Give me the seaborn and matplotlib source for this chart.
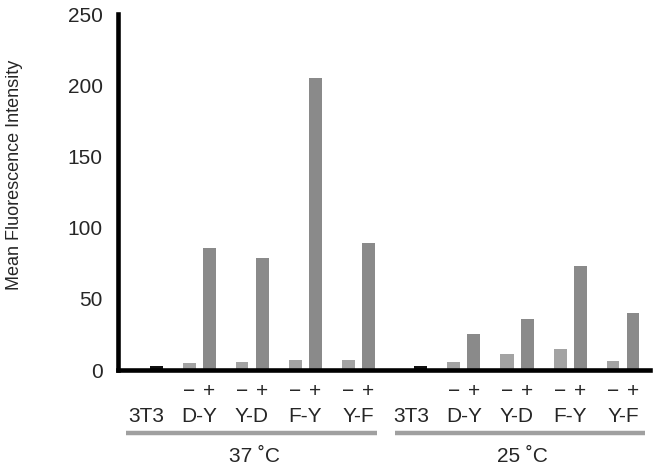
import numpy as np
import pandas as pd
import matplotlib
matplotlib.use("Agg")
import matplotlib.pyplot as plt
import matplotlib.transforms as mtransforms
import seaborn as sns

# ---- data ----
temperatures = ["37 ˚C", "25 ˚C"]
constructs = ["D-Y", "Y-D", "F-Y", "Y-F"]
control_label = "3T3"
control_3t3 = [3, 3]
minus_37 = [4.7, 5.8, 6.8, 7.2]
plus_37 = [86, 79, 205, 89]
minus_25 = [5.6, 11.2, 14.5, 6.5]
plus_25 = [25.3, 35.6, 73.3, 40]
minus_vals = [minus_37, minus_25]
plus_vals = [plus_37, plus_25]
y_ticks = [0, 50, 100, 150, 200, 250]
y_label = "Mean Fluorescence Intensity"

# ---- layout ----
SLOT = 1.0            # spacing between groups
MINUS_OFF = 20 / 53   # offset of '-' bar left of '+' bar
BAR_W = 13 / 53

rows = []
group_pos = []  # (temp index, label, center x, (minus x, plus x))
for t, temp in enumerate(temperatures):
    base = t * 5
    rows.append({"x": base * SLOT, "y": control_3t3[t], "kind": "ctrl"})
    group_pos.append((t, control_label, base * SLOT - MINUS_OFF / 2, None))
    for i, c in enumerate(constructs):
        k = (base + i + 1) * SLOT
        rows.append({"x": k - MINUS_OFF, "y": minus_vals[t][i], "kind": "minus"})
        rows.append({"x": k, "y": plus_vals[t][i], "kind": "plus"})
        group_pos.append((t, c, k - MINUS_OFF / 2, (k - MINUS_OFF, k)))
df = pd.DataFrame(rows)

palette = {"ctrl": "#111111", "minus": "#a3a3a3", "plus": "#8a8a8a"}

sns.set_style("white")
plt.rcParams["font.family"] = ["Liberation Sans", "DejaVu Sans"]

FS = 15

fig = plt.figure(figsize=(6.58, 4.69), dpi=100)
ax = fig.add_axes([118 / 658, 1 - 370 / 469, (650 - 118) / 658, 356 / 469])

sns.barplot(data=df, x="x", y="y", hue="kind", palette=palette,
            native_scale=True, dodge=False, width=BAR_W / MINUS_OFF,
            legend=False, ax=ax, linewidth=0, saturation=1)

ax.set_xlim(-38 / 53, (650 - 156) / 53)
ax.set_ylim(0, 250)
ax.set_yticks(y_ticks)
ax.set_yticklabels([str(v) for v in y_ticks], fontsize=FS)
ax.set_xticks([])
ax.set_xlabel("")
ax.set_ylabel(y_label, fontsize=13)
ax.yaxis.set_label_coords(-0.178, 0.548)
for s in ["top", "right"]:
    ax.spines[s].set_visible(False)
for s in ["left", "bottom"]:
    ax.spines[s].set_linewidth(3.3)
    ax.spines[s].set_color("black")
ax.tick_params(axis="y", direction="out", length=5, width=3.3, color="black", pad=6)

trans = mtransforms.blended_transform_factory(ax.transData, ax.transAxes)
for t, label, cx, pm in group_pos:
    ax.text(cx, -0.132, label, transform=trans, ha="center", va="center", fontsize=FS)
    if pm is not None:
        ax.text(pm[0], -0.061, "−", transform=trans, ha="center", va="center", fontsize=FS)
        ax.text(pm[1], -0.061, "+", transform=trans, ha="center", va="center", fontsize=FS)

# group underlines and temperature labels
spans = [(-0.566, 4.17), (4.51, 9.226)]
for t, temp in enumerate(temperatures):
    x0, x1 = spans[t]
    ax.plot([x0, x1], [-0.178, -0.178], transform=trans, color="#a0a0a0",
            linewidth=3.2, solid_capstyle="butt", clip_on=False)
    ax.text((x0 + x1) / 2 + 0.05, -0.2416, temp, transform=trans, ha="center",
            va="center", fontsize=FS)

fig.savefig("out.png", dpi=100)
